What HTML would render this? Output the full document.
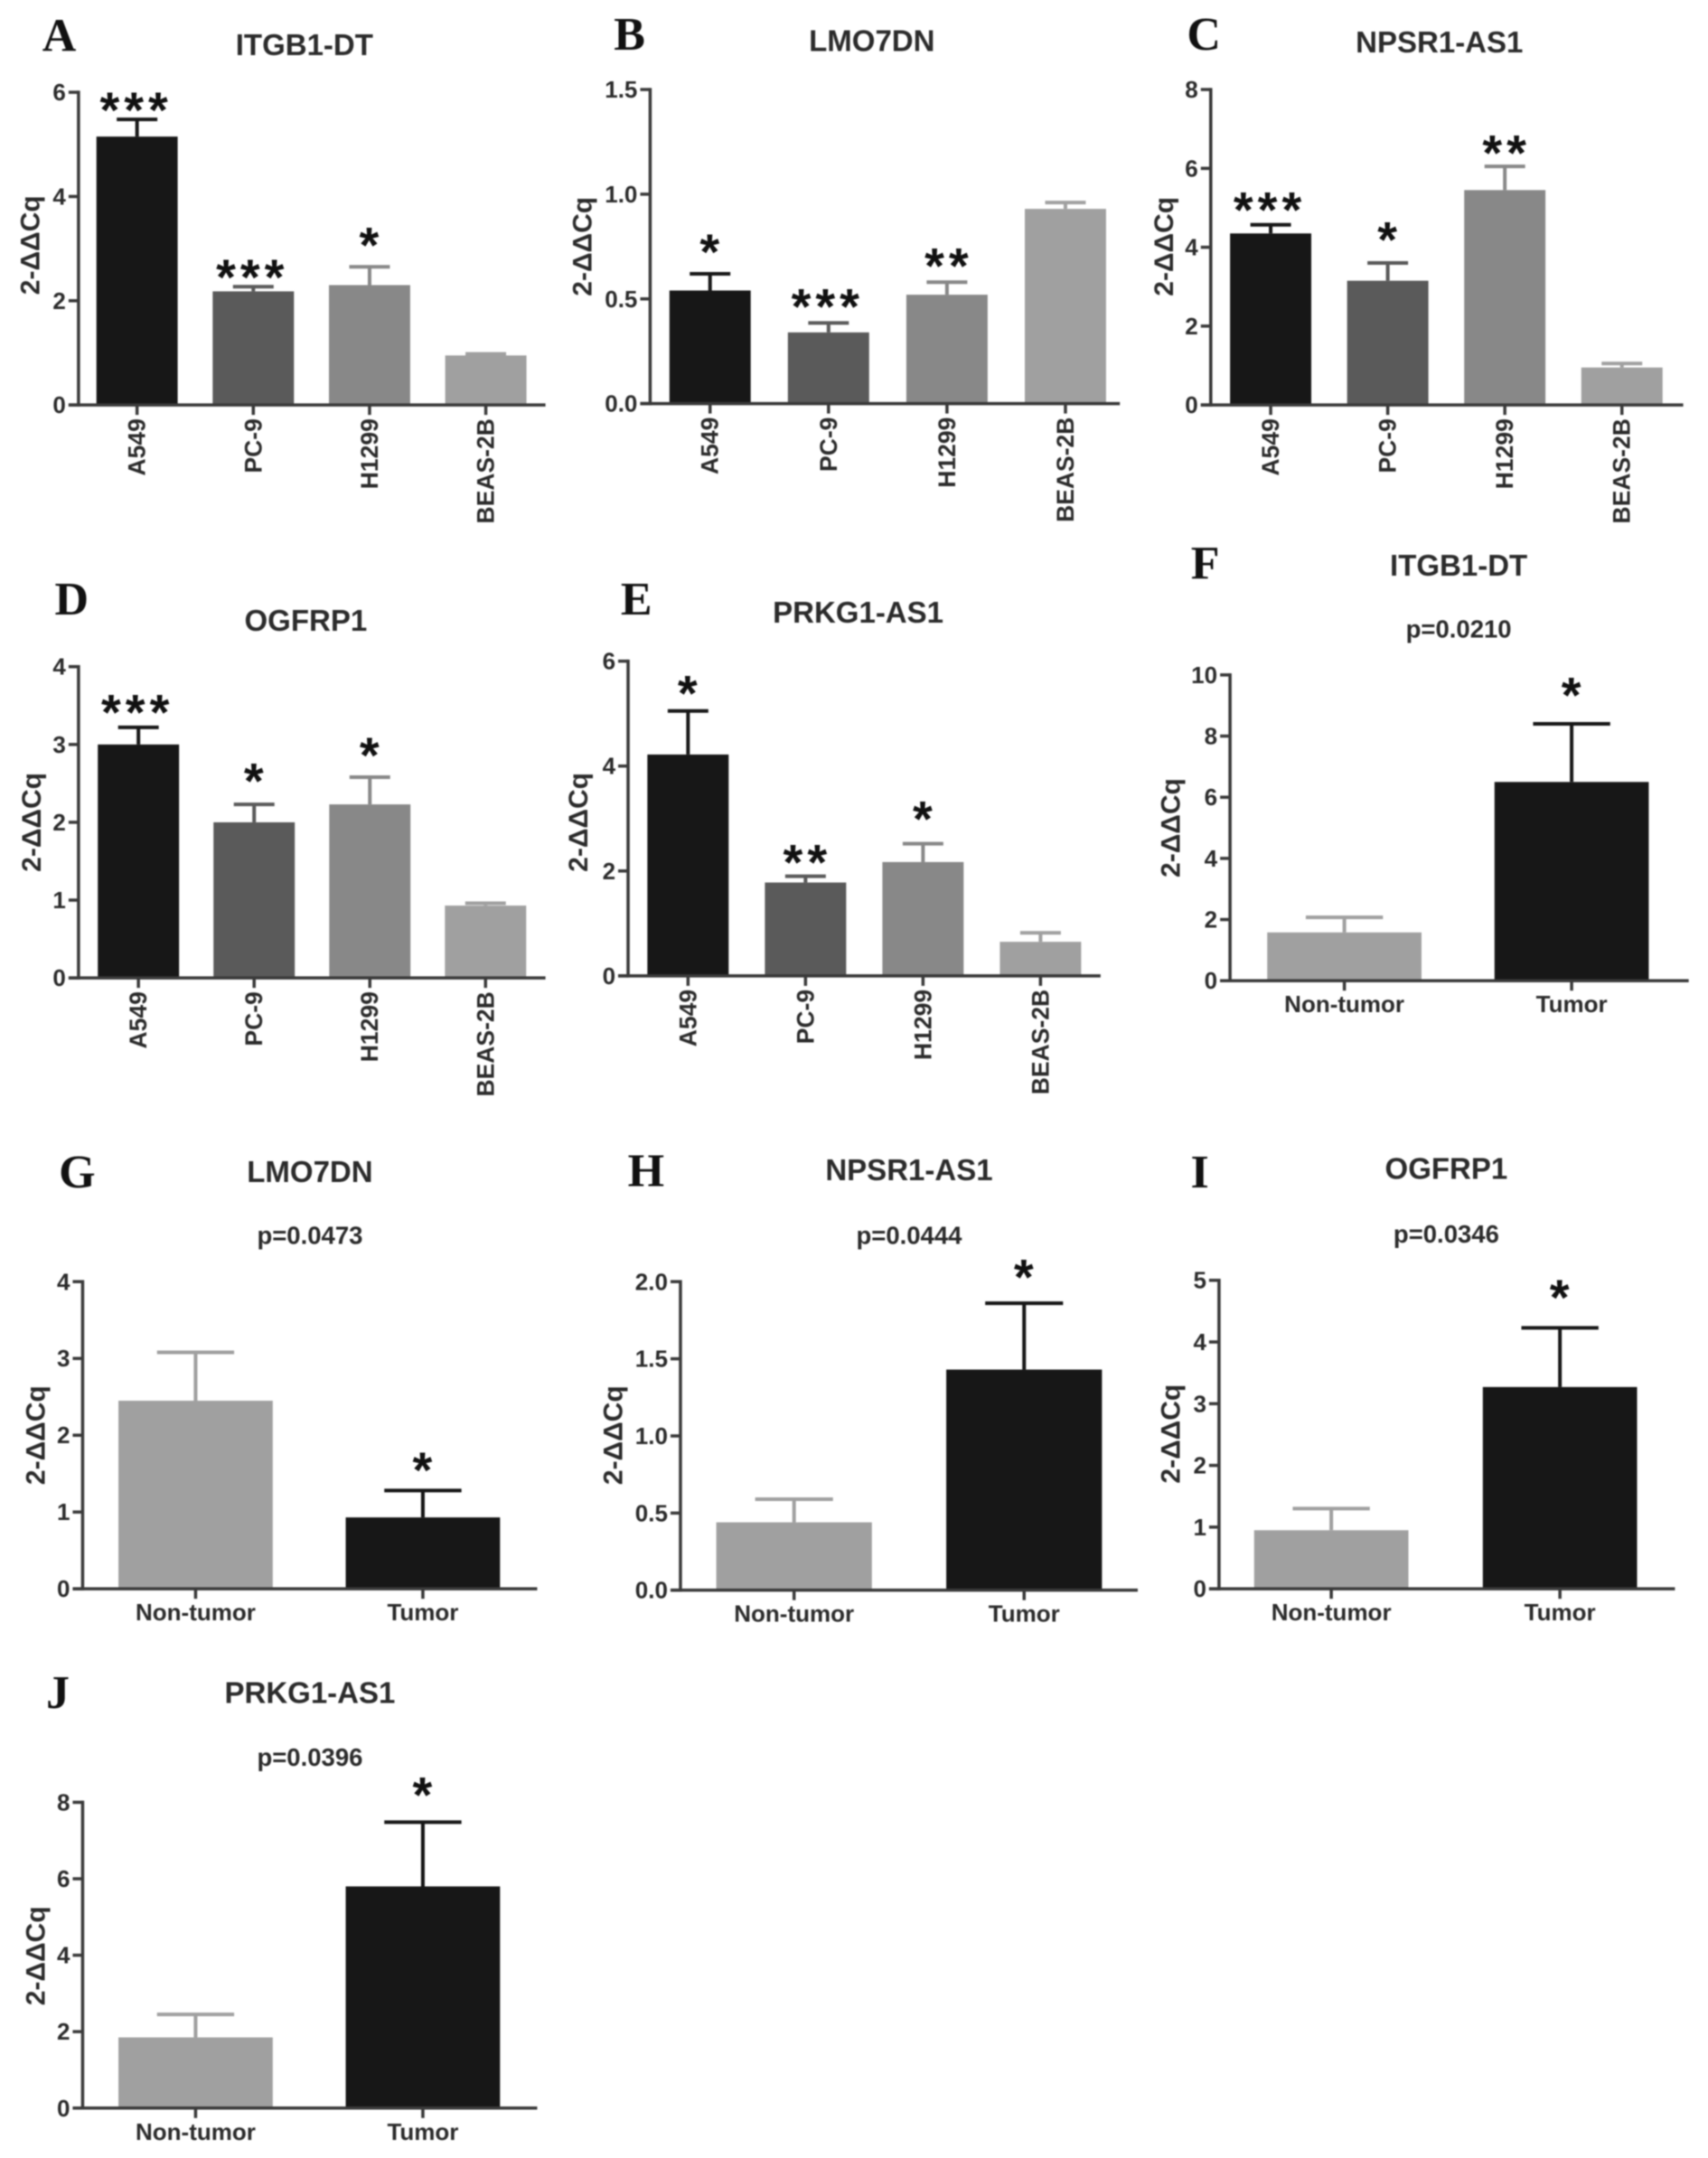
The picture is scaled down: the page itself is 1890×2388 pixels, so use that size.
<!DOCTYPE html>
<html lang="en">
<head>
<meta charset="utf-8">
<title>Relative expression bar charts</title>
<style>
html,body{margin:0;padding:0;background:#fff;}
#figure{display:block;width:1890px;height:2388px;filter:blur(0.9px);}
text{font-family:"Liberation Sans",sans-serif;font-weight:700;fill:#2b2b2b;}
.panel-letter{font-family:"Liberation Serif",serif;font-size:52px;fill:#111;}
.star{font-weight:700;font-size:56px;fill:#111;letter-spacing:5px;}
</style>
</head>
<body>
<svg id="figure" xmlns="http://www.w3.org/2000/svg" width="1890" height="2388" viewBox="0 0 1890 2388"></svg>
<script>
const cellCategories = ['A549', 'PC-9', 'H1299', 'BEAS-2B'];
const tissueCategories = ['Non-tumor', 'Tumor'];

const valuesA = [5.15, 2.18, 2.3, 0.95];
const errorTopsA = [5.48, 2.27, 2.65, 0.98];
const starsA = ['***', '***', '*', ''];
const ticksA = ['0', '2', '4', '6'];

const valuesB = [0.54, 0.34, 0.52, 0.93];
const errorTopsB = [0.62, 0.385, 0.58, 0.96];
const starsB = ['*', '***', '**', ''];
const ticksB = ['0.0', '0.5', '1.0', '1.5'];

const valuesC = [4.35, 3.15, 5.45, 0.95];
const errorTopsC = [4.57, 3.6, 6.05, 1.05];
const starsC = ['***', '*', '**', ''];
const ticksC = ['0', '2', '4', '6', '8'];

const valuesD = [3.0, 2.0, 2.23, 0.93];
const errorTopsD = [3.22, 2.23, 2.58, 0.96];
const starsD = ['***', '*', '*', ''];
const ticksD = ['0', '1', '2', '3', '4'];

const valuesE = [4.22, 1.78, 2.17, 0.65];
const errorTopsE = [5.05, 1.9, 2.52, 0.82];
const starsE = ['*', '**', '*', ''];
const ticksE = ['0', '2', '4', '6'];

const valuesF = [1.58, 6.5];
const errorTopsF = [2.07, 8.4];
const starsF = ['', '*'];
const ticksF = ['0', '2', '4', '6', '8', '10'];

const valuesG = [2.45, 0.93];
const errorTopsG = [3.08, 1.28];
const starsG = ['', '*'];
const ticksG = ['0', '1', '2', '3', '4'];

const valuesH = [0.44, 1.43];
const errorTopsH = [0.59, 1.86];
const starsH = ['', '*'];
const ticksH = ['0.0', '0.5', '1.0', '1.5', '2.0'];

const valuesI = [0.95, 3.27];
const errorTopsI = [1.3, 4.23];
const starsI = ['', '*'];
const ticksI = ['0', '1', '2', '3', '4', '5'];

const valuesJ = [1.85, 5.8];
const errorTopsJ = [2.45, 7.48];
const starsJ = ['', '*'];
const ticksJ = ['0', '2', '4', '6', '8'];

const cellColors = ['#171717', '#5a5a5a', '#888888', '#a0a0a0'];
const tissueColors = ['#a0a0a0', '#171717'];

const S = 1890 / 1240;
const svg = document.getElementById('figure');
const NS = 'http://www.w3.org/2000/svg';

function make(tag, attrs, parent, text) {
  const el = document.createElementNS(NS, tag);
  for (const k in attrs) el.setAttribute(k, attrs[k]);
  if (text !== undefined) el.textContent = text;
  parent.appendChild(el);
  return el;
}

function drawPanel(p) {
  const g = make('g', {}, svg);
  
  

  const ticks = p.ticks;
  const yMax = parseFloat(ticks[ticks.length - 1]);
  const yScale = function (v) { return (p.bottom + (p.top - p.bottom) * v / yMax) * S; };
  const xBand = function (i) { return (p.left + i * p.step) * S; };
  const barW = p.barW * S;
  const axisX = p.axisX * S;
  const base = yScale(0);

  const letter = make('text', {x: p.letterX * S, y: p.letterY * S, 'text-anchor': 'middle', 'class': 'panel-letter'}, g, p.letter);
  
  

  const title = make('text', {x: p.titleX * S, y: p.titleY * S, 'text-anchor': 'middle', 'font-size': 33}, g, p.title);
  
  

  if (p.pText) {
    const pv = make('text', {x: p.titleX * S, y: p.pY * S, 'text-anchor': 'middle', 'font-size': 27.5}, g, p.pText);
    
    
  }

  p.values.forEach(function (v, i) {
    const x = xBand(i);
    const cx = x + barW / 2;
    const color = p.colors[i];
    const top = yScale(v);
    const errY = yScale(p.errors[i]);

    const stem = make('line', {x1: cx, x2: cx, y1: top, y2: errY, stroke: color, 'stroke-width': 4}, g);
    
    

    const cap = make('line', {x1: cx - barW / 4, x2: cx + barW / 4, y1: errY, y2: errY, stroke: color, 'stroke-width': 4}, g);
    
    

    const bar = make('rect', {x: x, y: top, width: barW, height: base - top, fill: color}, g);
    
    

    if (p.stars[i]) {
      const n = p.stars[i].length;
      const starX = cx + (n === 3 ? -1 : 2);
      const star = make('text', {x: starX, y: errY - p.starGaps[i] * S + 27, 'text-anchor': 'middle', 'class': 'star'}, g, p.stars[i]);
      
      
    }

    const tick = make('line', {x1: cx, x2: cx, y1: base, y2: base + 11, stroke: '#3a3a3a', 'stroke-width': 3.5}, g);
    
    

    if (p.rotated) {
      const ly = base + 15;
      const lab = make('text', {x: cx + 9, y: ly, 'text-anchor': 'end', 'font-size': 26.5, transform: 'rotate(-90 ' + (cx + 9) + ' ' + ly + ')'}, g, p.categories[i]);
      
      
    } else {
      const lab2 = make('text', {x: cx, y: base + 35, 'text-anchor': 'middle', 'font-size': 26}, g, p.categories[i]);
      
      
    }
  });

  const yAxis = make('line', {x1: axisX, x2: axisX, y1: yScale(yMax) - 1.75, y2: base + 1.75, stroke: '#3a3a3a', 'stroke-width': 3.5}, g);
  
  

  const xAxis = make('line', {x1: axisX - 11, x2: p.right * S, y1: base, y2: base, stroke: '#3a3a3a', 'stroke-width': 3.5}, g);
  
  

  ticks.forEach(function (t) {
    const y = yScale(parseFloat(t));
    const tk = make('line', {x1: axisX - 11, x2: axisX, y1: y, y2: y, stroke: '#3a3a3a', 'stroke-width': 3.5}, g);
    
    
    const tl = make('text', {x: axisX - 14, y: y + 9, 'text-anchor': 'end', 'font-size': 26}, g, t);
    
    
  });

  const yc = p.yTitleY * S;
  const xc = p.yTitleX * S + 10;
  const yt = make('text', {x: xc, y: yc, 'text-anchor': 'middle', 'font-size': 30, transform: 'rotate(-90 ' + xc + ' ' + yc + ')'}, g, '2-ΔΔCq');
  
  
}

const panels = [
  {letter: 'A', title: 'ITGB1-DT', letterX: 43, letterY: 37, titleX: 221, titleY: 40, axisX: 57, top: 67, bottom: 294, right: 396, left: 70, step: 84.4, barW: 59, rotated: true, categories: cellCategories, colors: cellColors, values: valuesA, errors: errorTopsA, stars: starsA, ticks: ticksA, starGaps: [12, 12, 21, 0], yTitleX: 22, yTitleY: 178},
  {letter: 'B', title: 'LMO7DN', letterX: 457, letterY: 36, titleX: 633, titleY: 37, axisX: 472, top: 65, bottom: 293, right: 813, left: 486, step: 86, barW: 59, rotated: true, categories: cellCategories, colors: cellColors, values: valuesB, errors: errorTopsB, stars: starsB, ticks: ticksB, starGaps: [21, 17, 17, 0], yTitleX: 423, yTitleY: 179},
  {letter: 'C', title: 'NPSR1-AS1', letterX: 874, letterY: 36, titleX: 1045, titleY: 38, axisX: 879, top: 65, bottom: 294, right: 1222, left: 893, step: 85, barW: 59, rotated: true, categories: cellCategories, colors: cellColors, values: valuesC, errors: errorTopsC, stars: starsC, ticks: ticksC, starGaps: [16, 22, 15, 0], yTitleX: 845, yTitleY: 179},
  {letter: 'D', title: 'OGFRP1', letterX: 52, letterY: 446, titleX: 222, titleY: 458, axisX: 57, top: 484, bottom: 710, right: 396, left: 71, step: 84, barW: 59, rotated: true, categories: cellCategories, colors: cellColors, values: valuesD, errors: errorTopsD, stars: starsD, ticks: ticksD, starGaps: [16, 22, 21, 0], yTitleX: 23, yTitleY: 597},
  {letter: 'E', title: 'PRKG1-AS1', letterX: 462, letterY: 446, titleX: 623, titleY: 452, axisX: 456, top: 480, bottom: 708.5, right: 799, left: 470, step: 85.3, barW: 59, rotated: true, categories: cellCategories, colors: cellColors, values: valuesE, errors: errorTopsE, stars: starsE, ticks: ticksE, starGaps: [18, 15, 23, 0], yTitleX: 420, yTitleY: 597},
  {letter: 'F', title: 'ITGB1-DT', pText: 'p=0.0210', pY: 463, letterX: 875, letterY: 420, titleX: 1059, titleY: 418, axisX: 893, top: 490, bottom: 712, right: 1226, left: 920, step: 165, barW: 112, rotated: false, categories: tissueCategories, colors: tissueColors, values: valuesF, errors: errorTopsF, stars: starsF, ticks: ticksF, starGaps: [0, 26], yTitleX: 850, yTitleY: 601},
  {letter: 'G', title: 'LMO7DN', pText: 'p=0.0473', pY: 903, letterX: 56, letterY: 862, titleX: 225, titleY: 858, axisX: 60, top: 930.5, bottom: 1153.5, right: 390, left: 86, step: 165, barW: 112, rotated: false, categories: tissueCategories, colors: tissueColors, values: valuesG, errors: errorTopsG, stars: starsG, ticks: ticksG, starGaps: [0, 20], yTitleX: 26, yTitleY: 1042},
  {letter: 'H', title: 'NPSR1-AS1', pText: 'p=0.0444', pY: 903, letterX: 469, letterY: 861, titleX: 660, titleY: 857, axisX: 494, top: 930.5, bottom: 1154.5, right: 826, left: 520, step: 167, barW: 113, rotated: false, categories: tissueCategories, colors: tissueColors, values: valuesH, errors: errorTopsH, stars: starsH, ticks: ticksH, starGaps: [0, 24], yTitleX: 445, yTitleY: 1042},
  {letter: 'I', title: 'OGFRP1', pText: 'p=0.0346', pY: 902, letterX: 871, letterY: 862, titleX: 1050, titleY: 856, axisX: 885, top: 929.5, bottom: 1153.5, right: 1216, left: 910.5, step: 166, barW: 112, rotated: false, categories: tissueCategories, colors: tissueColors, values: valuesI, errors: errorTopsI, stars: starsI, ticks: ticksI, starGaps: [0, 27], yTitleX: 850, yTitleY: 1041},
  {letter: 'J', title: 'PRKG1-AS1', pText: 'p=0.0396', pY: 1282, letterX: 42, letterY: 1240, titleX: 225, titleY: 1236.5, axisX: 60, top: 1308.5, bottom: 1530.5, right: 390, left: 86, step: 165, barW: 112, rotated: false, categories: tissueCategories, colors: tissueColors, values: valuesJ, errors: errorTopsJ, stars: starsJ, ticks: ticksJ, starGaps: [0, 25], yTitleX: 26, yTitleY: 1420}
];

panels.forEach(drawPanel);
</script>
</body>
</html>
